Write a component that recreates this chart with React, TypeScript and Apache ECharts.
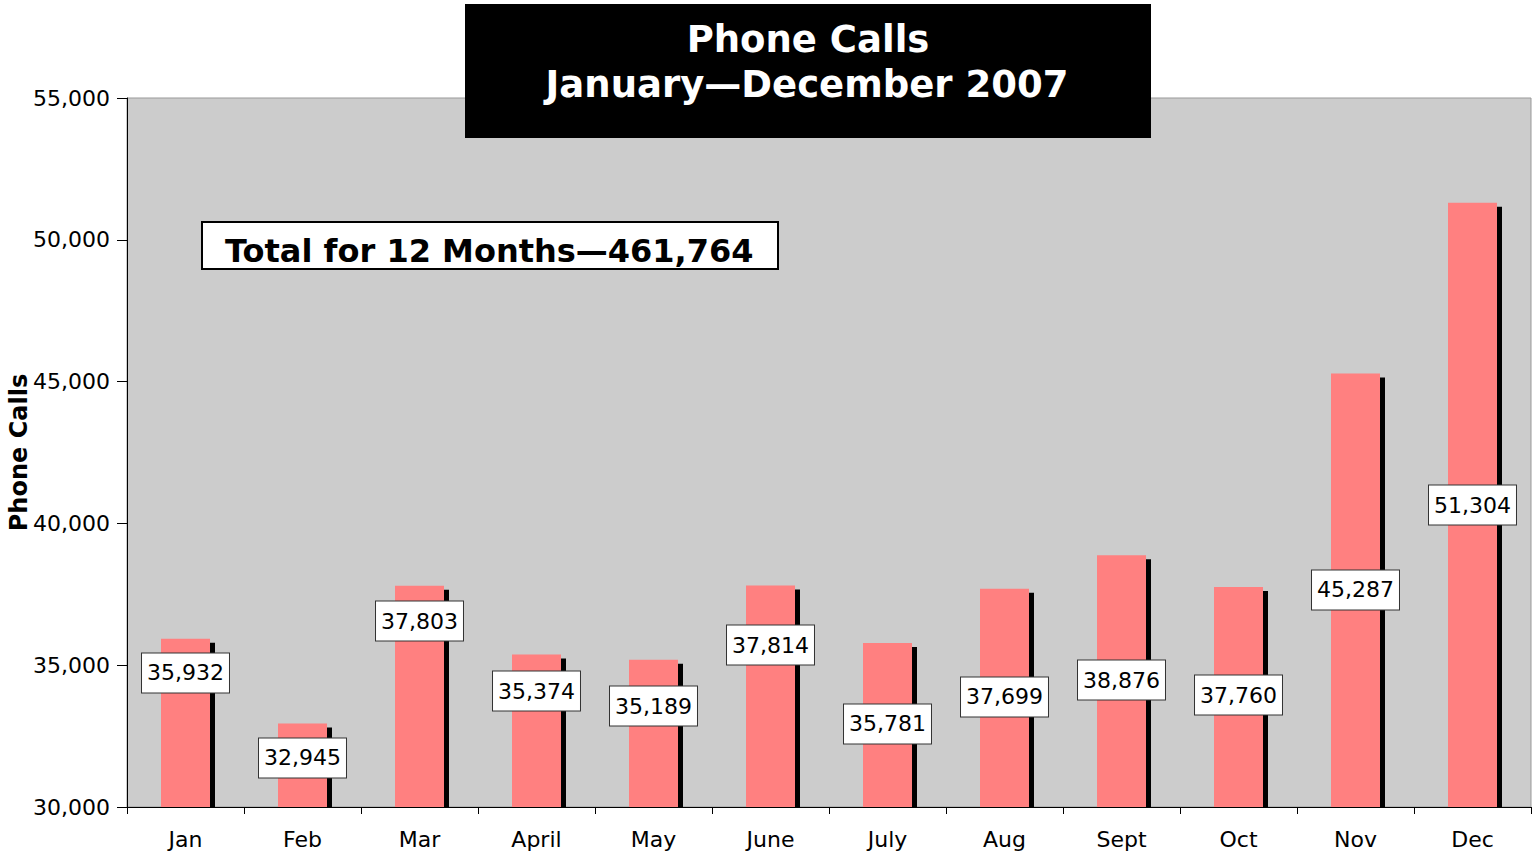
import React, { useEffect, useRef } from "react";
import * as echarts from "echarts";

const months = ["Jan", "Feb", "Mar", "April", "May", "June", "July", "Aug", "Sept", "Oct", "Nov", "Dec"];
const calls = [35932, 32945, 37803, 35374, 35189, 37814, 35781, 37699, 38876, 37760, 45287, 51304];
// vertical placement (in axis units) of each value label box
const labelAt = [34725, 31728, 36558, 34090, 33561, 35712, 32927, 33879, 34478, 33949, 37652, 40648];
const yTicks = { min: 30000, max: 55000, interval: 5000 };
const titleLines = ["Phone Calls", "January\u2014December 2007"];
const totalText = "Total for 12 Months\u2014461,764";

const FONT = "DejaVu Sans, Verdana, sans-serif";
const fmt = (v: number) => v.toLocaleString("en-US");

export default function App() {
  const ref = useRef<HTMLDivElement>(null);
  useEffect(() => {
    if (!ref.current) return;
    const chart = echarts.init(ref.current, null, { renderer: "svg" });
    chart.setOption({
      animation: false,
      backgroundColor: "#ffffff",
      grid: {
        left: 127,
        right: 5,
        top: 98,
        bottom: 47,
        containLabel: false,
        outerBoundsMode: "none",
        show: true,
        backgroundColor: "#cccccc",
        borderColor: "#999999",
        borderWidth: 1,
      },
      xAxis: {
        type: "category",
        data: months,
        z: 6,
        axisLine: { lineStyle: { color: "#000", width: 1 } },
        axisTick: { show: true, length: 7, alignWithLabel: false, lineStyle: { color: "#000" } },
        axisLabel: { color: "#000", fontFamily: FONT, fontSize: 22, margin: 21 },
      },
      yAxis: {
        type: "value",
        min: yTicks.min,
        max: yTicks.max,
        interval: yTicks.interval,
        z: 6,
        name: "Phone Calls",
        nameLocation: "middle",
        nameRotate: 90,
        nameGap: 96,
        nameMoveOverlap: false,
        nameTextStyle: { color: "#000", fontFamily: FONT, fontSize: 24, fontWeight: "bold" },
        axisLine: { show: true, lineStyle: { color: "#000", width: 1 } },
        axisTick: { show: true, length: 10, lineStyle: { color: "#000" } },
        splitLine: { show: false },
        axisLabel: {
          color: "#000",
          fontFamily: FONT,
          fontSize: 22,
          margin: 17,
          formatter: (v: number) => fmt(v),
        },
      },
      series: [
        {
          type: "bar",
          data: calls,
          barWidth: 49,
          itemStyle: {
            color: "#ff8080",
            shadowColor: "#000000",
            shadowBlur: 0,
            shadowOffsetX: 5,
            shadowOffsetY: 4,
          },
          silent: true,
        },
        {
          type: "scatter",
          data: labelAt.map((v, i) => [i, v]),
          symbolSize: 0,
          silent: true,
          z: 10,
          itemStyle: { opacity: 1 },
          label: {
            show: true,
            position: "inside",
            formatter: (p: any) => fmt(calls[p.dataIndex]),
            color: "#000",
            opacity: 1,
            fontFamily: FONT,
            fontSize: 22,
            backgroundColor: "#ffffff",
            borderColor: "#333333",
            borderWidth: 1,
            padding: [9, 5, 8, 5],
          },
        },
      ],
      graphic: [
        {
          type: "rect",
          shape: { x: 126, y: 808, width: 1406, height: 6 },
          style: { fill: "#ffffff" },
          z: 5,
          silent: true,
        },
        {
          type: "rect",
          shape: { x: 465, y: 4, width: 686, height: 134 },
          style: { fill: "#000000" },
          z: 100,
        },
        {
          type: "text",
          x: 808,
          y: 39,
          z: 101,
          style: {
            text: titleLines[0],
            fill: "#ffffff",
            font: `bold 37px ${FONT}`,
            textAlign: "center",
            textVerticalAlign: "middle",
          },
        },
        {
          type: "text",
          x: 807,
          y: 84,
          z: 101,
          style: {
            text: titleLines[1],
            fill: "#ffffff",
            font: `bold 37px ${FONT}`,
            textAlign: "center",
            textVerticalAlign: "middle",
          },
        },
        {
          type: "rect",
          shape: { x: 202, y: 222, width: 576, height: 47 },
          style: { fill: "#ffffff", stroke: "#000000", lineWidth: 2 },
          z: 100,
        },
        {
          type: "text",
          x: 225,
          y: 251,
          z: 101,
          style: {
            text: totalText,
            fill: "#000000",
            font: `bold 32px ${FONT}`,
            textAlign: "left",
            textVerticalAlign: "middle",
          },
        },
      ],
    });
    return () => chart.dispose();
  }, []);
  return <div ref={ref} style={{ position: "fixed", left: 0, top: 0, width: 1536, height: 854 }} />;
}
